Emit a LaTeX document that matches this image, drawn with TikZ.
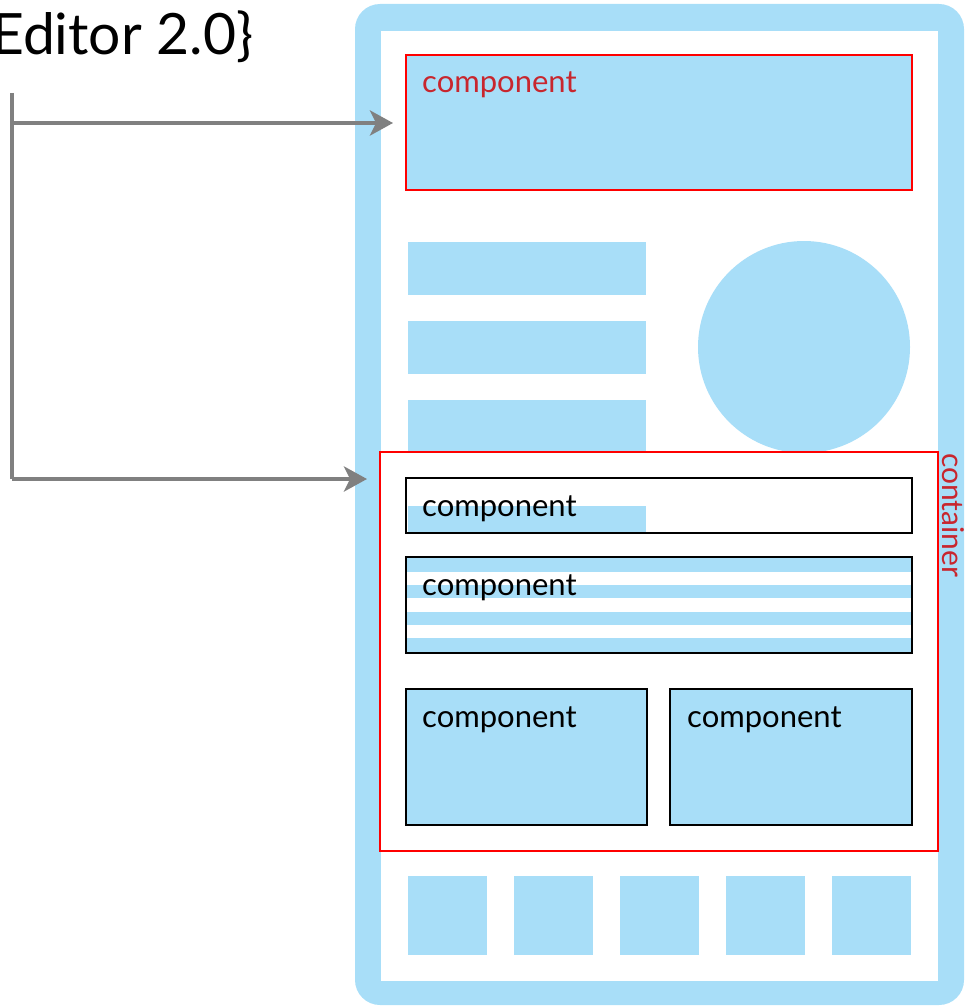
\documentclass[tikz,border=0pt]{standalone}
\usepackage{fontspec}
\setmainfont{Lato}
\usetikzlibrary{arrows.meta}
\definecolor{lblue}{HTML}{A8DEF8}
\definecolor{cred}{HTML}{FF0000}
\definecolor{tred}{HTML}{C8262E}
\definecolor{agray}{HTML}{808080}
\begin{document}
\begin{tikzpicture}[x=1pt,y=-1pt,
  box/.style={anchor=north west, inner sep=0pt, outer sep=0pt},
  blk/.style={box, fill=lblue, draw=none},
  comp/.style={box, draw=black, line width=2.8pt},
  redbox/.style={box, draw=cred, line width=2.8pt},
  lbl/.style={anchor=base west, inner sep=0pt, font=\fontsize{31}{38}\selectfont},
  conn/.style={draw=agray, line width=4.2pt},
  arr/.style={conn, -{Stealth[length=23pt,width=25pt,inset=6pt]}},
]
\useasboundingbox (0,0) rectangle (966,1006);
% phone frame
\node[box, fill=lblue, rounded corners=25pt, minimum width=609pt, minimum height=1001pt] (phone) at (355,4) {};
\node[box, fill=white, minimum width=557pt, minimum height=950pt] (screen) at (381,31) {};
% top component
\node[redbox, fill=lblue, minimum width=506pt, minimum height=135pt] (topcomp) at (406,55) {};
\node[lbl, text=tred] (toplbl) at (422,93) {component};
% bars and circle
\node[blk, minimum width=238pt, minimum height=53pt] (bar1) at (408,242) {};
\node[blk, minimum width=238pt, minimum height=53pt] (bar2) at (408,321) {};
\node[blk, minimum width=238pt, minimum height=53pt] (bar3) at (408,400) {};
\node[circle, fill=lblue, minimum size=212pt, inner sep=0pt] (circ) at (804,347) {};
% container
\node[redbox, fill=white, minimum width=558pt, minimum height=399pt] (container) at (380,452) {};
\node[anchor=base west, inner sep=0pt, rotate=-90, text=tred, font=\fontsize{30}{36}\selectfont] (contlbl) at (942,453) {container};
% component 1
\node[blk, minimum width=238pt, minimum height=27pt] (bar4) at (408,506) {};
\node[comp, minimum width=506pt, minimum height=55pt] (comp1) at (406,478) {};
\node[lbl] (lbl1) at (422,516) {component};
% component 2 (striped)
\node[blk, minimum width=506pt, minimum height=15pt] (s1) at (406,557) {};
\node[blk, minimum width=506pt, minimum height=13pt] (s2) at (406,585) {};
\node[blk, minimum width=506pt, minimum height=13pt] (s3) at (406,612) {};
\node[blk, minimum width=506pt, minimum height=15pt] (s4) at (406,638) {};
\node[comp, minimum width=506pt, minimum height=96pt] (comp2) at (406,557) {};
\node[lbl] (lbl2) at (422,595) {component};
% components 3 and 4
\node[comp, fill=lblue, minimum width=241pt, minimum height=136pt] (comp3) at (406,689) {};
\node[lbl] (lbl3) at (422,727) {component};
\node[comp, fill=lblue, minimum width=242pt, minimum height=136pt] (comp4) at (670,689) {};
\node[lbl] (lbl4) at (687,727) {component};
% bottom squares
\foreach \i/\x in {1/408,2/514,3/620,4/726,5/832}{
  \node[blk, minimum width=79pt, minimum height=79pt] (sq\i) at (\x,876) {};
}
% title
\node[anchor=base west, inner sep=0pt, font=\fontsize{57}{66}\selectfont] (title) at (-9,55) {Editor 2.0\}};
% connectors
\coordinate (vtop) at (12,93);
\coordinate (j1) at (12,123);
\coordinate (j2) at (12,479);
\draw[conn] (vtop) -- (j2);
\draw[arr, shorten >=13pt] (j1) -- (j1 -| topcomp.west);
\draw[arr, shorten >=13pt] (vtop |- j2) -- (j2 -| container.west);
\end{tikzpicture}
\end{document}
